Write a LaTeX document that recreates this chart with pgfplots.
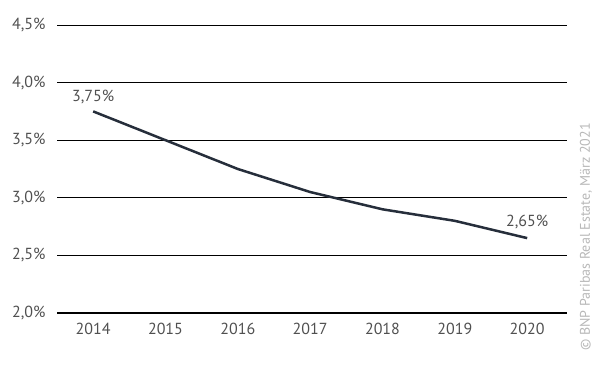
\documentclass[border=0pt]{standalone}
\usepackage{pgfplots}
\pgfplotsset{compat=1.18}
\usepackage{fontspec}
\setmainfont{PT Sans}
\definecolor{txt}{HTML}{505050}
\definecolor{navy}{HTML}{262E3B}
\definecolor{copy}{HTML}{B8B8B8}
\begin{document}
\begin{tikzpicture}
\path[use as bounding box] (0pt,0pt) rectangle (600pt,367pt);
\begin{axis}[
  at={(57pt,54pt)}, anchor=origin,
  scale only axis, width=510pt, height=288pt,
  xmin=2013.5, xmax=2020.55, ymin=2.0, ymax=4.5,
  axis line style={draw=none},
  clip=false,
  xtick={2014,...,2020},
  ytick={2.0,2.5,...,4.5},
  ymajorgrids, grid style={black, line width=0.9pt},
  major tick length=0pt,
  tick label style={font=\fontsize{16}{19}\selectfont, text=txt},
  /pgf/number format/assume math mode=true,
  xticklabel={\pgfmathprintnumber[set thousands separator={},assume math mode=true]{\tick}},
  x tick label style={yshift=-7pt},
  yticklabel={\pgfmathprintnumber[use comma,fixed,fixed zerofill,precision=1,assume math mode=true]{\tick}\%},
  y tick label style={xshift=-8pt},
]
\addplot[navy, line width=2.5pt] coordinates {
(2014,3.75) (2015,3.50) (2016,3.25) (2017,3.05) (2018,2.90) (2019,2.80) (2020,2.65)
};
\draw[black, line width=2pt] (axis cs:2013.5,2.0) -- (axis cs:2020.55,2.0);
\node[font=\fontsize{16}{19}\selectfont, text=txt] at (axis cs:2014,3.75) [yshift=14pt] {3,75\%};
\node[font=\fontsize{16}{19}\selectfont, text=txt] at (axis cs:2020,2.65) [yshift=16pt] {2,65\%};
\end{axis}
\node[rotate=90, font=\fontsize{14}{16}\selectfont, text=copy] at (586pt,130pt) {© BNP Paribas Real Estate, März 2021};
\end{tikzpicture}
\end{document}
